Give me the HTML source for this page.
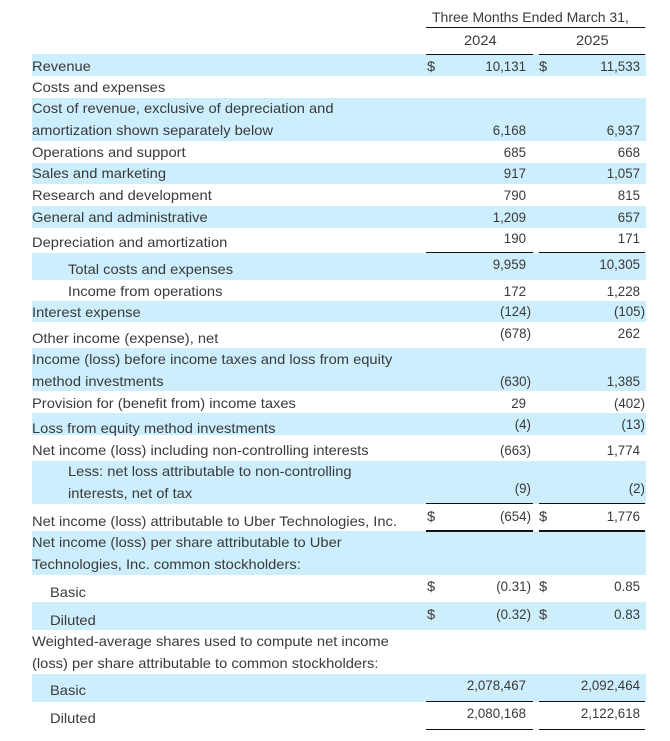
<!DOCTYPE html>
<html><head><meta charset="utf-8"><style>
body{margin:0;background:#fff;}
#c{position:relative;width:670px;height:741px;overflow:hidden;font-family:"Liberation Sans",sans-serif;font-size:14px;color:#3a3a3a;}
.b{position:absolute;left:32px;width:614px;background:#cdeefd;}
.t{position:absolute;height:20px;line-height:20px;white-space:nowrap;transform-origin:left center;transform:scaleX(1.05);}
.r{position:absolute;height:20px;line-height:20px;white-space:nowrap;text-align:right;width:120px;transform-origin:right center;transform:scaleX(0.95);}
.l{position:absolute;height:1px;background:#111;}
</style></head><body><div id="c">
<div class="b" style="top:54px;height:22px"></div>
<div class="b" style="top:98px;height:43px"></div>
<div class="b" style="top:163px;height:21px"></div>
<div class="b" style="top:206px;height:22px"></div>
<div class="b" style="top:253px;height:27px"></div>
<div class="b" style="top:301px;height:21px"></div>
<div class="b" style="top:348px;height:43px"></div>
<div class="b" style="top:413px;height:22px"></div>
<div class="b" style="top:461px;height:43px"></div>
<div class="b" style="top:531px;height:44px"></div>
<div class="b" style="top:602px;height:28px"></div>
<div class="b" style="top:674px;height:28px"></div>
<div class="t" style="top:7px;left:432px;transform:scaleX(1.0)">Three Months Ended March 31,</div>
<div class="l" style="top:27px;left:426px;width:219px"></div>
<div class="t" style="top:30px;left:464px">2024</div>
<div class="t" style="top:30px;left:576px">2025</div>
<div class="l" style="top:54px;left:426px;width:107px"></div>
<div class="l" style="top:54px;left:539px;width:106px"></div>
<div class="t" style="top:56px;left:32px">Revenue</div>
<div class="t" style="top:77px;left:32px">Costs and expenses</div>
<div class="t" style="top:98px;left:32px">Cost of revenue, exclusive of depreciation and</div>
<div class="t" style="top:120px;left:32px">amortization shown separately below</div>
<div class="t" style="top:142px;left:32px">Operations and support</div>
<div class="t" style="top:163px;left:32px">Sales and marketing</div>
<div class="t" style="top:185px;left:32px">Research and development</div>
<div class="t" style="top:207px;left:32px">General and administrative</div>
<div class="t" style="top:232px;left:32px">Depreciation and amortization</div>
<div class="t" style="top:259px;left:68px">Total costs and expenses</div>
<div class="t" style="top:281px;left:68px">Income from operations</div>
<div class="t" style="top:302px;left:32px">Interest expense</div>
<div class="t" style="top:328px;left:32px">Other income (expense), net</div>
<div class="t" style="top:349px;left:32px">Income (loss) before income taxes and loss from equity</div>
<div class="t" style="top:371px;left:32px">method investments</div>
<div class="t" style="top:393px;left:32px">Provision for (benefit from) income taxes</div>
<div class="t" style="top:418px;left:32px">Loss from equity method investments</div>
<div class="t" style="top:440px;left:32px">Net income (loss) including non-controlling interests</div>
<div class="t" style="top:461px;left:68px">Less: net loss attributable to non-controlling</div>
<div class="t" style="top:483px;left:68px">interests, net of tax</div>
<div class="t" style="top:511px;left:32px">Net income (loss) attributable to Uber Technologies, Inc.</div>
<div class="t" style="top:532px;left:32px">Net income (loss) per share attributable to Uber</div>
<div class="t" style="top:554px;left:32px">Technologies, Inc. common stockholders:</div>
<div class="t" style="top:582px;left:50px">Basic</div>
<div class="t" style="top:610px;left:50px">Diluted</div>
<div class="t" style="top:631px;left:32px">Weighted-average shares used to compute net income</div>
<div class="t" style="top:653px;left:32px">(loss) per share attributable to common stockholders:</div>
<div class="t" style="top:680px;left:50px">Basic</div>
<div class="t" style="top:708px;left:50px">Diluted</div>
<div class="t" style="top:56px;left:427px">$</div><div class="t" style="top:56px;left:539px">$</div>
<div class="t" style="top:506px;left:427px">$</div><div class="t" style="top:506px;left:539px">$</div>
<div class="t" style="top:576px;left:427px">$</div><div class="t" style="top:576px;left:539px">$</div>
<div class="t" style="top:604px;left:427px">$</div><div class="t" style="top:604px;left:539px">$</div>
<div class="r" style="top:56px;left:406px">10,131</div>
<div class="r" style="top:120px;left:406px">6,168</div>
<div class="r" style="top:142px;left:406px">685</div>
<div class="r" style="top:163px;left:406px">917</div>
<div class="r" style="top:185px;left:406px">790</div>
<div class="r" style="top:207px;left:406px">1,209</div>
<div class="r" style="top:228px;left:406px">190</div>
<div class="r" style="top:254px;left:406px">9,959</div>
<div class="r" style="top:281px;left:406px">172</div>
<div class="r" style="top:301px;left:411px">(124)</div>
<div class="r" style="top:323px;left:411px">(678)</div>
<div class="r" style="top:371px;left:411px">(630)</div>
<div class="r" style="top:393px;left:406px">29</div>
<div class="r" style="top:414px;left:411px">(4)</div>
<div class="r" style="top:440px;left:411px">(663)</div>
<div class="r" style="top:478px;left:411px">(9)</div>
<div class="r" style="top:506px;left:411px">(654)</div>
<div class="r" style="top:576px;left:411px">(0.31)</div>
<div class="r" style="top:604px;left:411px">(0.32)</div>
<div class="r" style="top:675px;left:406px">2,078,467</div>
<div class="r" style="top:703px;left:406px">2,080,168</div>
<div class="r" style="top:56px;left:520px">11,533</div>
<div class="r" style="top:120px;left:520px">6,937</div>
<div class="r" style="top:142px;left:520px">668</div>
<div class="r" style="top:163px;left:520px">1,057</div>
<div class="r" style="top:185px;left:520px">815</div>
<div class="r" style="top:207px;left:520px">657</div>
<div class="r" style="top:228px;left:520px">171</div>
<div class="r" style="top:254px;left:520px">10,305</div>
<div class="r" style="top:281px;left:520px">1,228</div>
<div class="r" style="top:301px;left:525px">(105)</div>
<div class="r" style="top:323px;left:520px">262</div>
<div class="r" style="top:371px;left:520px">1,385</div>
<div class="r" style="top:393px;left:525px">(402)</div>
<div class="r" style="top:414px;left:525px">(13)</div>
<div class="r" style="top:440px;left:520px">1,774</div>
<div class="r" style="top:478px;left:525px">(2)</div>
<div class="r" style="top:506px;left:520px">1,776</div>
<div class="r" style="top:576px;left:520px">0.85</div>
<div class="r" style="top:604px;left:520px">0.83</div>
<div class="r" style="top:675px;left:520px">2,092,464</div>
<div class="r" style="top:703px;left:520px">2,122,618</div>
<div class="l" style="top:252px;left:426px;width:107px"></div><div class="l" style="top:252px;left:539px;width:106px"></div>
<div class="l" style="top:503px;left:426px;width:107px"></div><div class="l" style="top:503px;left:539px;width:106px"></div>
<div class="l" style="top:530px;left:426px;width:107px;height:2px"></div><div class="l" style="top:530px;left:539px;width:106px;height:2px"></div>
<div class="l" style="top:701px;left:426px;width:107px"></div><div class="l" style="top:701px;left:539px;width:106px"></div>
<div class="l" style="top:729px;left:426px;width:107px"></div><div class="l" style="top:729px;left:539px;width:106px"></div>
</div></body></html>
